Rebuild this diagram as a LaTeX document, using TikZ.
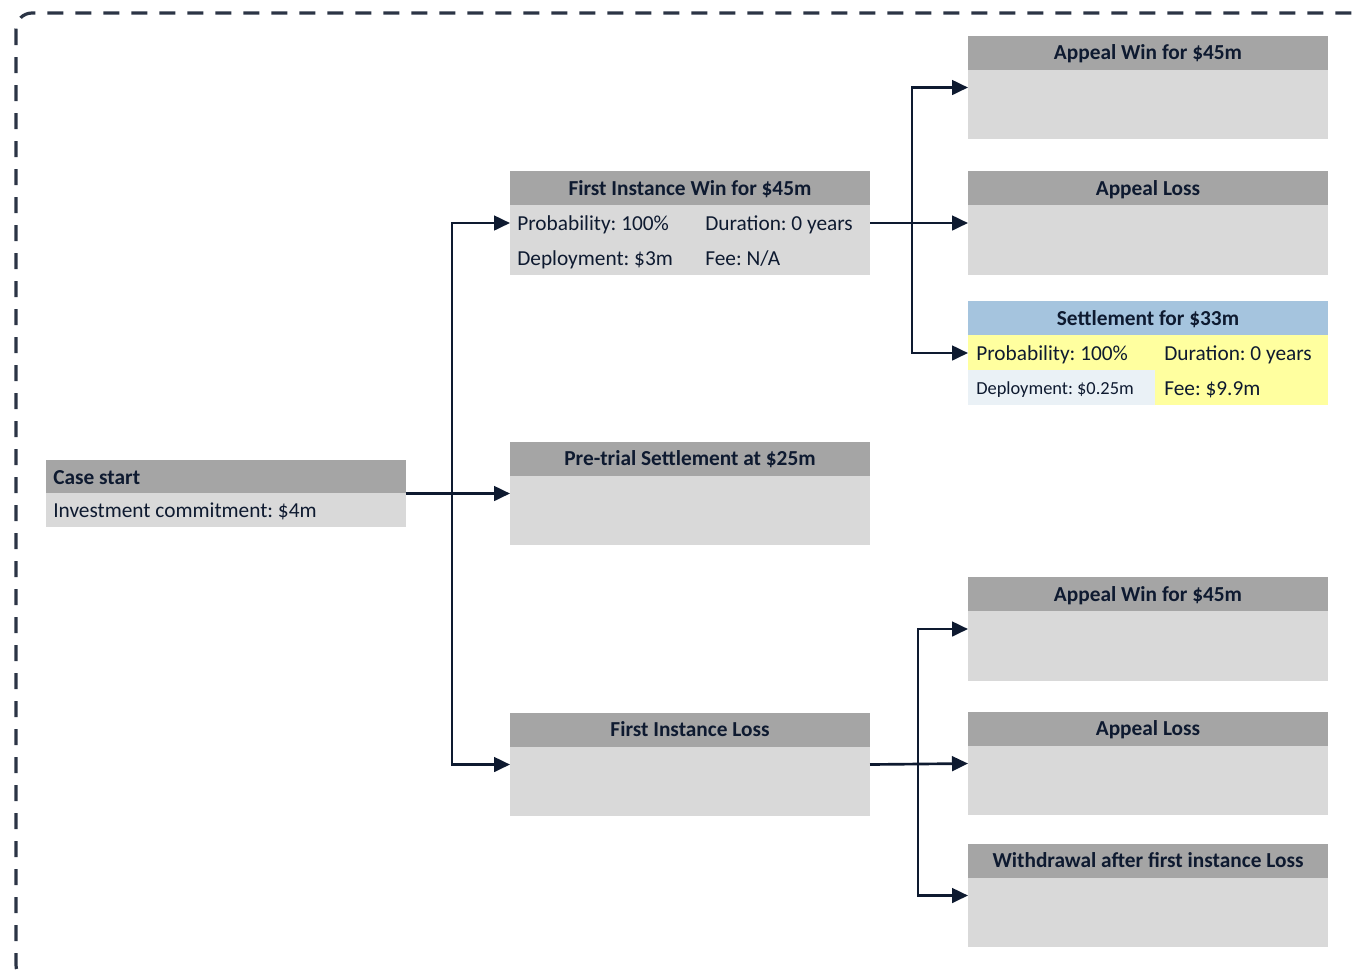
\documentclass[tikz,border=0pt]{standalone}
\usepackage{fontspec}
\setmainfont{Carlito}
\usetikzlibrary{arrows.meta}
\frenchspacing

\definecolor{ink}{HTML}{0E1A30}
\definecolor{framegray}{HTML}{2B3445}
\definecolor{headgray}{HTML}{A5A5A5}
\definecolor{bodygray}{HTML}{D9D9D9}
\definecolor{headblue}{HTML}{A5C4DE}
\definecolor{rowyellow}{HTML}{FFFF9F}
\definecolor{rowpale}{HTML}{EAF1F6}

\tikzset{
  box/.style={fill=bodygray, minimum width=270pt, minimum height=77.5pt, inner sep=0pt, outer sep=0pt},
  head/.style={fill=headgray, minimum width=270pt, minimum height=25.5pt, inner sep=0pt, outer sep=0pt,
    text height=10.3pt, text depth=0pt, text=ink, font=\bfseries\fontsize{16}{19}\selectfont},
  cell/.style={anchor=base west, inner sep=0pt, text=ink, font=\fontsize{16}{19}\selectfont},
  small cell/.style={cell, font=\fontsize{13.8}{16}\selectfont},
  link/.style={draw=ink, line width=2pt, -{Triangle[length=12pt,width=11pt]}},
}

\begin{document}
\begin{tikzpicture}[x=0.75pt, y=-0.75pt]
\useasboundingbox (0,0) rectangle (1352,976);
\begin{scope}
  \clip (0,0) rectangle (1352,976);
  \draw[framegray, line width=2.4pt, dash pattern=on 12pt off 9pt, rounded corners=12pt]
    (16,13) rectangle (1372,981);
\end{scope}

% case start
\node[box, minimum height=50.25pt] (start) at (226,493.5) {};
\node[head, minimum height=24.75pt, anchor=north] (starthead) at (start.north) {};
\node[cell, font=\bfseries\fontsize{16}{19}\selectfont] (starttitle) at (53,484) {Case start};
\node[cell] (startinv) at (53,517) {Investment commitment: \$4m};

% first instance win
\node[box] (fiwin) at (690,223) {};
\node[head, anchor=north] (fiwinhead) at (fiwin.north) {First Instance Win for \$45m};
\node[cell] (fiwinprob) at (517,230) {Probability: 100\%};
\node[cell] (fiwindur) at (705,230) {Duration: 0 years};
\node[cell] (fiwindep) at (517,265) {Deployment: \$3m};
\node[cell] (fiwinfee) at (705,265) {Fee: N/A};

% pre-trial settlement
\node[box] (pretrial) at (690,493.5) {};
\node[head, anchor=north] (pretrialhead) at (pretrial.north) {Pre-trial Settlement at \$25m};

% first instance loss
\node[box] (filoss) at (690,764.5) {};
\node[head, anchor=north] (filosshead) at (filoss.north) {First Instance Loss};

% appeals after a win
\node[box] (appwina) at (1148,87.5) {};
\node[head, anchor=north] (appwinahead) at (appwina.north) {Appeal Win for \$45m};
\node[box] (applossa) at (1148,223) {};
\node[head, anchor=north] (applossahead) at (applossa.north) {Appeal Loss};
\node[box, fill=rowyellow] (settle) at (1148,353) {};
\fill[rowpale] (968,370) rectangle (1155,405);
\node[head, fill=headblue, anchor=north] (settlehead) at (settle.north) {Settlement for \$33m};
\node[cell] (settleprob) at (976,360) {Probability: 100\%};
\node[cell] (settledur) at (1164,360) {Duration: 0 years};
\node[small cell] (settledep) at (976,394) {Deployment: \$0.25m};
\node[cell] (settlefee) at (1164,395) {Fee: \$9.9m};

% appeals after a loss
\node[box] (appwinb) at (1148,629) {};
\node[head, anchor=north] (appwinbhead) at (appwinb.north) {Appeal Win for \$45m};
\node[box] (applossb) at (1148,763.5) {};
\node[head, anchor=north] (applossbhead) at (applossb.north) {Appeal Loss};
\node[box] (withdraw) at (1148,895.5) {};
\node[head, anchor=north] (withdrawhead) at (withdraw.north) {Withdrawal after first instance Loss};

% connectors
\coordinate (splitstart) at (452,493.5);
\coordinate (splitwin) at (912,223);
\coordinate (splitloss) at (918,764);
\draw[link] (start.east) -- (pretrial.west);
\draw[link] (splitstart) |- (fiwin.west);
\draw[link] (splitstart) |- (filoss.west);
\draw[link] (fiwin.east) -- (applossa.west);
\draw[link] (splitwin) |- (appwina.west);
\draw[link] (splitwin) |- (settle.west);
\draw[link] (filoss.east) -- (applossb.west);
\draw[link] (splitloss) |- (appwinb.west);
\draw[link] (splitloss) |- (withdraw.west);
\end{tikzpicture}
\end{document}
